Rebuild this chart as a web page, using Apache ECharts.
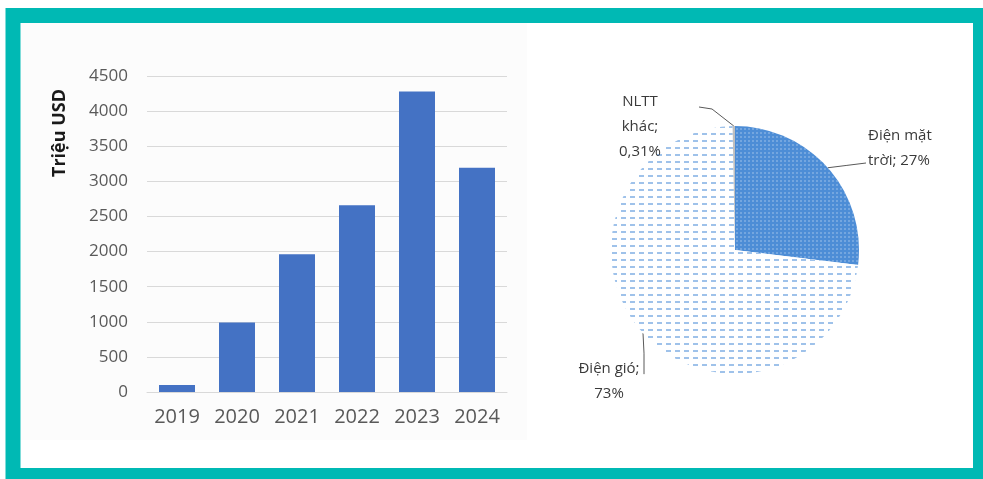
<!DOCTYPE html>
<html>
<head>
<meta charset="utf-8">
<script src="https://cdn.jsdelivr.net/npm/echarts@6/dist/echarts.min.js"></script>
<style>
  html, body { margin: 0; padding: 0; background: #ffffff; }
  #chart { width: 983px; height: 479px; }
</style>
</head>
<body>
<div id="chart"></div>
<script>
// Investment by year (million USD)
const years = ['2019', '2020', '2021', '2022', '2023', '2024'];
const investment = [100, 990, 1960, 2660, 4280, 3195];
const axisMin = 0;
const axisMax = 4500;
const axisStep = 500;
const axisTitle = 'Triệu USD';

// Share by renewable source (%)
const sourceNames = ['Điện mặt trời', 'Điện gió', 'NLTT khác'];
const sourceShares = [27, 73, 0.31];
// how each source label wraps in the chart
const sourceLabelText = ['Điện mặt\ntrời', 'Điện gió', 'NLTT\nkhác'];
const sourceLabelSep = [' ', '\n', '\n'];

const teal = '#00b9b4';
const barBlue = '#4472c4';

const chart = echarts.init(document.getElementById('chart'));

const pieStyles = [
  { // solar: solid blue with a fine dot grid
    color: '#4d8dd6',
    decal: {
      symbol: 'rect', color: 'rgba(255,255,255,0.22)',
      dashArrayX: [[1.5, 1.5]], dashArrayY: [1.5, 1.5], symbolSize: 1
    }
  },
  { // wind: white with light blue dashes
    color: '#ffffff',
    decal: {
      symbol: 'rect', color: '#9fc2ea',
      dashArrayX: [[5, 4]], dashArrayY: [2, 5], symbolSize: 1
    }
  },
  { color: '#bfbfbf' }
];

const pieLabelPlacement = [
  { x: 868, y: 148, align: 'left', via: null, end: [866, 163] },
  { x: 609, y: 381, align: 'center', via: 'down', end: null },
  { x: 640, y: 127, align: 'center', via: [712, 109], end: [699, 107] }
];

chart.setOption({
  animation: false,
  textStyle: { fontFamily: 'Open Sans' },
  graphic: [
    { // light panel behind the column chart
      type: 'rect', z: -10, silent: true,
      shape: { x: 21, y: 23, width: 506, height: 417 },
      style: { fill: '#fcfcfc' }
    },
    { // teal frame
      type: 'rect', z: 100, silent: true,
      shape: { x: 13, y: 15.5, width: 967.5, height: 460 },
      style: { fill: 'none', stroke: teal, lineWidth: 15 }
    },
    {
      type: 'text', z: 10, silent: true,
      x: 60, y: 133, rotation: Math.PI / 2,
      style: {
        text: axisTitle, fill: '#1a1a1a', font: 'bold 18px "Open Sans"',
        align: 'center', verticalAlign: 'middle'
      }
    }
  ],
  grid: { left: 147, right: 476, top: 76, bottom: 87, containLabel: false },
  xAxis: {
    type: 'category', data: years,
    axisLine: { lineStyle: { color: '#d9d9d9', width: 1 } },
    axisTick: { show: false },
    axisLabel: { color: '#595959', fontSize: 20, margin: 15 }
  },
  yAxis: {
    type: 'value', min: axisMin, max: axisMax, interval: axisStep,
    axisLine: { show: false },
    axisTick: { show: false },
    axisLabel: { color: '#595959', fontSize: 17, margin: 19, formatter: v => String(v) },
    splitLine: { lineStyle: { color: '#d9d9d9', width: 1 } }
  },
  series: [
    {
      type: 'bar', data: investment, barWidth: '60%',
      itemStyle: { color: barBlue }
    },
    {
      type: 'pie',
      center: [735, 250], radius: 124,
      startAngle: 90, clockwise: true,
      avoidLabelOverlap: false,
      data: sourceNames.map((n, i) => ({
        name: n, value: sourceShares[i], itemStyle: pieStyles[i]
      })),
      label: {
        show: true, position: 'outside',
        color: '#3a3a3a', fontSize: 15, lineHeight: 25,
        formatter: p => sourceLabelText[p.dataIndex] + ';' + sourceLabelSep[p.dataIndex] +
          String(p.value).replace('.', ',') + '%'
      },
      labelLine: { show: true, lineStyle: { color: '#595959', width: 1 } },
      labelLayout: function (p) {
        const cfg = pieLabelPlacement[p.dataIndex];
        const out = { x: cfg.x, y: cfg.y, align: cfg.align, verticalAlign: 'middle' };
        if (p.labelLinePoints) {
          const e = p.labelLinePoints[0];
          let mid, end;
          if (cfg.via === 'down') {
            mid = [e[0] + 1, e[1] + 20];
            end = [e[0] + 1, e[1] + 41];
          } else {
            end = cfg.end;
            mid = cfg.via || [(e[0] + end[0]) / 2, (e[1] + end[1]) / 2];
          }
          out.labelLinePoints = [e, mid, end];
        }
        return out;
      },
      emphasis: { disabled: true }
    }
  ]
});
</script>
</body>
</html>
